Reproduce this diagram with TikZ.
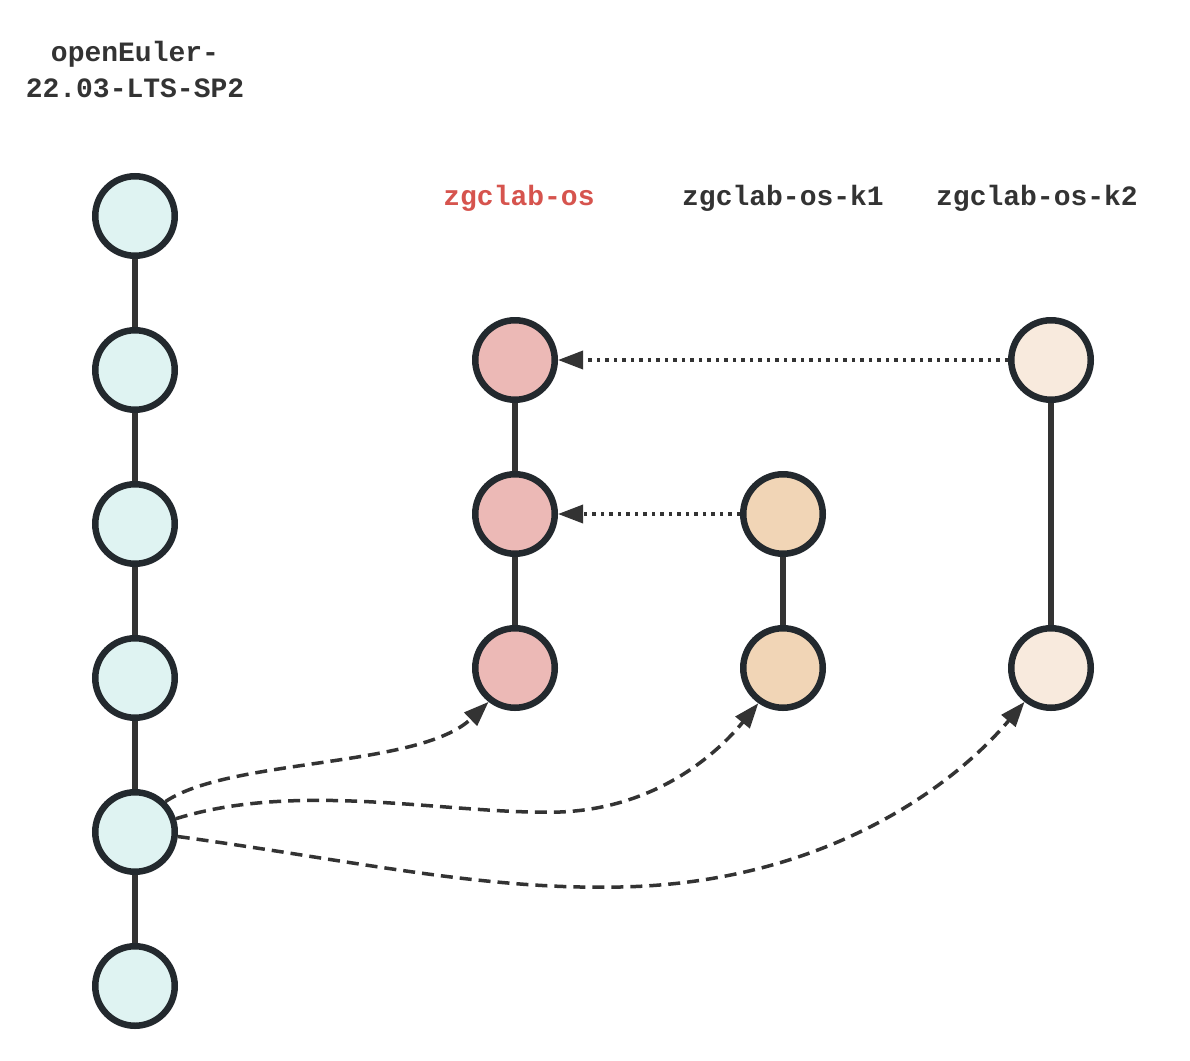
\documentclass[tikz,border=0pt]{standalone}
\usepackage{fontspec}
\setmonofont{Liberation Mono}
\usetikzlibrary{arrows.meta}
\definecolor{edge}{HTML}{23292E}
\definecolor{linec}{HTML}{333333}
\definecolor{tealf}{HTML}{DFF3F2}
\definecolor{pinkf}{HTML}{ECB9B6}
\definecolor{orangef}{HTML}{F1D5B6}
\definecolor{lightf}{HTML}{F8EADD}
\definecolor{redt}{HTML}{D6544E}
\tikzset{
  commit/.style={circle, draw=edge, line width=6.5pt, minimum size=79.5pt, inner sep=0pt},
  tealc/.style={commit, fill=tealf},
  pinkc/.style={commit, fill=pinkf},
  orangec/.style={commit, fill=orangef},
  lightc/.style={commit, fill=lightf},
  solidlink/.style={draw=linec, line width=5.5pt},
  tip/.style={-{Triangle[length=25pt,width=18pt]}},
  dotlink/.style={draw=linec, line width=3.5pt, dash pattern=on 3.5pt off 5pt, tip},
  dashlink/.style={draw=linec, line width=3.5pt, dash pattern=on 12pt off 7pt, tip},
  lbl/.style={font=\fontsize{28pt}{36pt}\selectfont\ttfamily\bfseries, text=linec, align=center, inner sep=0pt}
}
\begin{document}
\begin{tikzpicture}[x=1pt,y=-1pt]
\useasboundingbox (0,0) rectangle (1190,1060);
% labels
\node[lbl] (lo) at (135,70) {openEuler-\\22.03-LTS-SP2};
\node[lbl, text=redt] (lz) at (519,198) {zgclab-os};
\node[lbl] (lk1) at (783,198) {zgclab-os-k1};
\node[lbl] (lk2) at (1037,198) {zgclab-os-k2};
% links first (behind circles)
\coordinate (c1) at (135,216);
\coordinate (c6) at (135,986);
\draw[solidlink] (c1) -- (c6);
\coordinate (pa) at (515,360);
\coordinate (pb) at (515,668);
\draw[solidlink] (pa) -- (pb);
\coordinate (ka) at (783,514);
\coordinate (kb) at (783,668);
\draw[solidlink] (ka) -- (kb);
\coordinate (qa) at (1051,360);
\coordinate (qb) at (1051,668);
\draw[solidlink] (qa) -- (qb);
% circles
\node[tealc] (n1) at (135,216) {};
\node[tealc] (n2) at (135,370) {};
\node[tealc] (n3) at (135,524) {};
\node[tealc] (n4) at (135,678) {};
\node[tealc] (n5) at (135,832) {};
\node[tealc] (n6) at (135,986) {};
\node[pinkc] (p1) at (515,360) {};
\node[pinkc] (p2) at (515,514) {};
\node[pinkc] (p3) at (515,668) {};
\node[orangec] (k1) at (783,514) {};
\node[orangec] (k2) at (783,668) {};
\node[lightc] (m1) at (1051,360) {};
\node[lightc] (m2) at (1051,668) {};
% dotted merges
\draw[dotlink] (m1.west) -- (p1.east);
\draw[dotlink] (k1.west) -- (p2.east);
% dashed branches
\draw[dashlink] (n5.45) .. controls (230,758) and (420,768) .. (p3.-128);
\draw[dashlink] (n5.18) .. controls (300,780) and (450,815) .. (560,812) .. controls (660,808) and (720,750) .. (k2.-125);
\draw[dashlink] (n5.-6) .. controls (350,860) and (480,890) .. (620,887) .. controls (820,883) and (950,790) .. (m2.-128);
\end{tikzpicture}
\end{document}
